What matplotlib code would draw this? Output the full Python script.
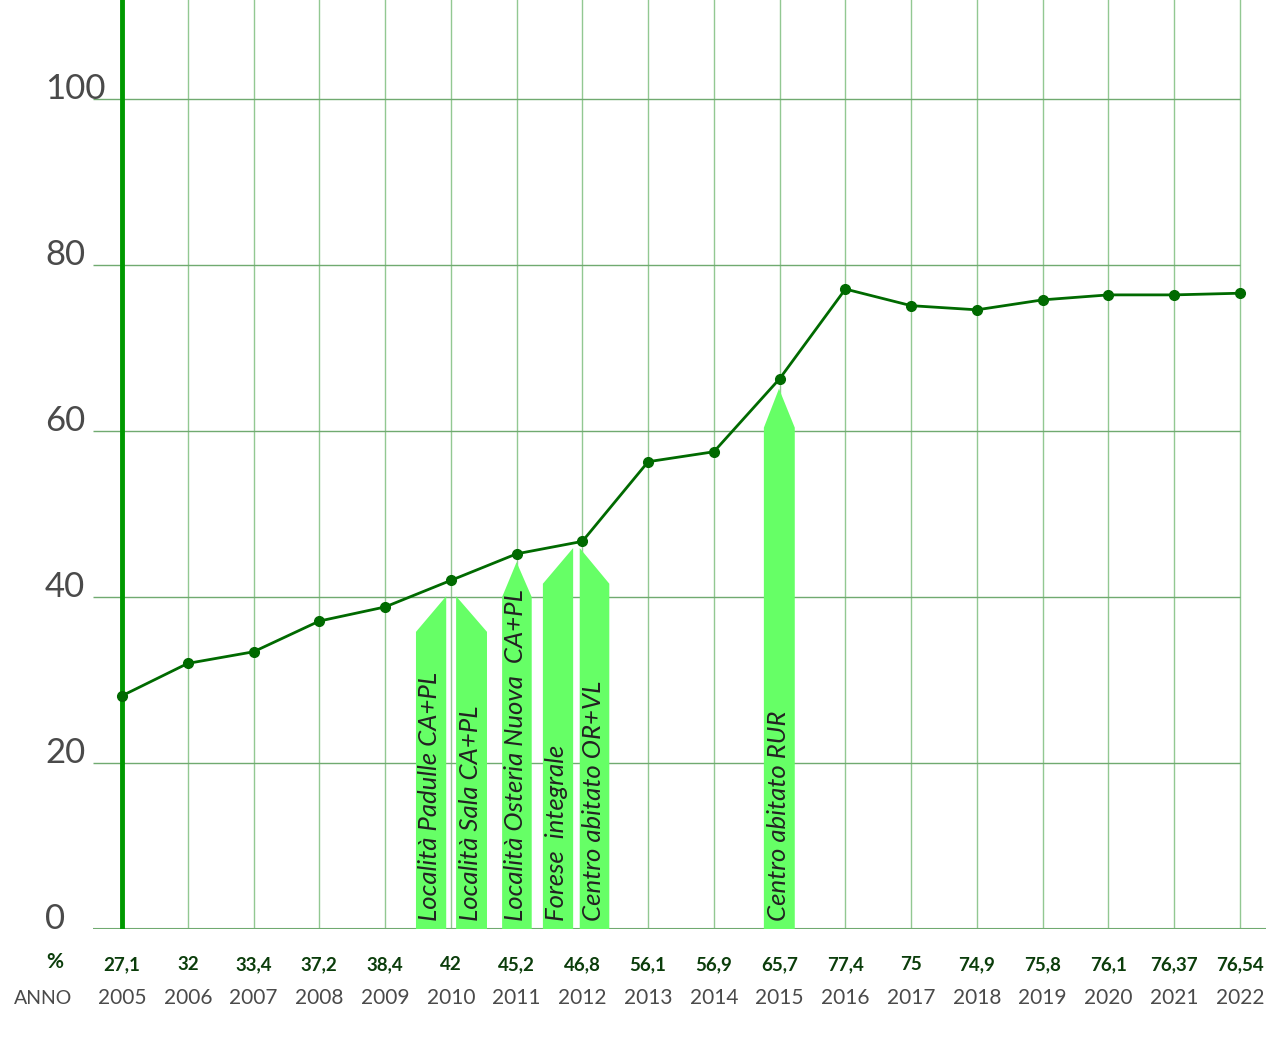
import matplotlib.pyplot as plt
from matplotlib.patches import Polygon

# data
years = [2005, 2006, 2007, 2008, 2009, 2010, 2011, 2012, 2013,
         2014, 2015, 2016, 2017, 2018, 2019, 2020, 2021, 2022]
plotted = [28.1, 32.0, 33.4, 37.1, 38.8, 42.0, 45.2, 46.7, 56.3,
           57.5, 66.3, 77.1, 75.1, 74.6, 75.8, 76.4, 76.4, 76.6]
# the printed % row
value_labels = ['27,1', '32', '33,4', '37,2', '38,4', '42', '45,2', '46,8', '56,1',
                '56,9', '65,7', '77,4', '75', '74,9', '75,8', '76,1', '76,37', '76,54']
y_ticks = [0, 20, 40, 60, 80, 100]

# annotation arrows: label, left, right, tip x, shoulder height, tip height
arrow_labels = ['Località Padulle CA+PL', 'Località Sala CA+PL',
                'Località Osteria Nuova  CA+PL', 'Forese  integrale',
                'Centro abitato OR+VL', 'Centro abitato RUR']
arrow_left = [2009.47, 2010.08, 2010.78, 2011.40, 2011.96, 2014.76]
arrow_right = [2009.93, 2010.55, 2011.23, 2011.86, 2012.41, 2015.23]
arrow_tip_x = [2009.93, 2010.08, 2011.0, 2011.86, 2011.96, 2014.99]
arrow_shoulder = [35.8, 35.8, 40.0, 41.6, 41.6, 60.4]
arrow_tip = [40.1, 40.1, 44.2, 45.9, 45.9, 65.1]

FONT = ['Lato', 'DejaVu Sans']
LINE_GREEN = '#006a00'
ARROW_GREEN = '#66ff66'
GRID_V = '#92c892'
GRID_H = '#70aa70'

W, H = 1281, 1038
fig = plt.figure(figsize=(W / 100, H / 100), dpi=100)
ax_left, ax_right, ax_top, ax_bottom = 93, 1266, 0, 929
ax = fig.add_axes([ax_left / W, 1 - ax_bottom / H,
                   (ax_right - ax_left) / W, (ax_bottom - ax_top) / H])

px_per_year = (1240 - 122) / 17
ax.set_xlim(2005 - (122 - ax_left) / px_per_year,
            2005 + (ax_right - 122) / px_per_year)
ax.set_ylim(0, 929 / 8.3)
ax.axis('off')

# grid
for yr in years[1:]:
    ax.axvline(yr, color=GRID_V, lw=1, zorder=1)
ax.axvline(years[0], color='#009900', lw=3.5, zorder=2)
for t in y_ticks[1:]:
    ax.hlines(t, ax.get_xlim()[0], years[-1], color=GRID_H, lw=1, zorder=1)
ax.hlines(0, ax.get_xlim()[0], ax.get_xlim()[1], color=GRID_H, lw=1.5, zorder=1)

# y tick labels, sitting on their gridlines
for t in y_ticks:
    ax.text(-0.041, t + 0.05, str(t), transform=ax.get_yaxis_transform(),
            ha='left', va='baseline', fontsize=25, color='#4a4a4a',
            family=FONT)

# arrows with labels
for i, lab in enumerate(arrow_labels):
    x0, x1 = arrow_left[i], arrow_right[i]
    tx = arrow_tip_x[i]
    if tx == x1:
        pts = [(x0, 0), (x1, 0), (x1, arrow_tip[i]), (x0, arrow_shoulder[i])]
    elif tx == x0:
        pts = [(x0, 0), (x1, 0), (x1, arrow_shoulder[i]), (x0, arrow_tip[i])]
    else:
        pts = [(x0, 0), (x1, 0), (x1, arrow_shoulder[i]), (tx, arrow_tip[i]),
               (x0, arrow_shoulder[i])]
    ax.add_patch(Polygon(pts, closed=True, facecolor=ARROW_GREEN,
                         edgecolor='none', zorder=3))
    ax.text((x0 + x1) / 2 - 0.02, 1.0, lab, rotation=90, ha='center', va='bottom',
            fontsize=18.5, style='italic', color='#222222',
            family=FONT, zorder=5)

# the series
ax.plot(years, plotted, color=LINE_GREEN, lw=2, marker='o', markersize=7,
        zorder=4, clip_on=False)

# value and year rows under the chart
for yr, lab in zip(years, value_labels):
    ax.text(yr, -4.3, lab, ha='center', va='center', fontsize=13.5,
            fontweight='bold', color='#0b3d0b', family=FONT)
    ax.text(yr, -8.3, str(yr), ha='center', va='center', fontsize=15,
            color='#4a4a4a', family=FONT)
fig.text(55 / W, 1 - 962 / H, '%', ha='center', va='center', fontsize=15,
         fontweight='bold', color='#0b3d0b', family=FONT)
fig.text(43 / W, 1 - 998 / H, 'ANNO', ha='center', va='center', fontsize=14,
         color='#4a4a4a', family=FONT)

fig.savefig('out.png', dpi=100, facecolor='white')
